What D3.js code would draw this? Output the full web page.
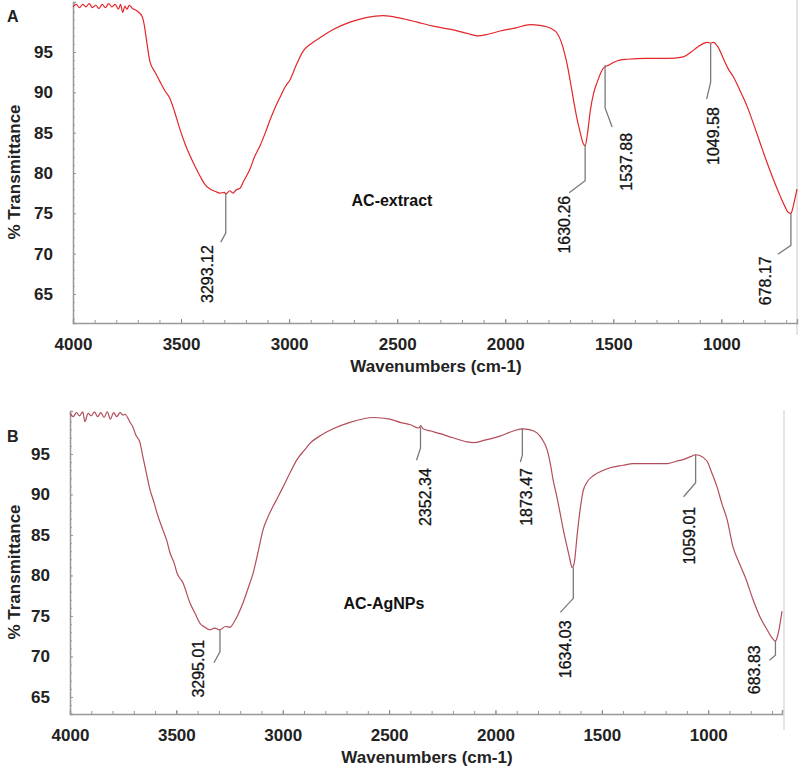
<!DOCTYPE html>
<html>
<head>
<meta charset="utf-8">
<script src="https://cdn.jsdelivr.net/npm/d3@7"></script>
<style>
  body { margin: 0; background: #fff; }
  text { font-family: "Liberation Sans", Arial, sans-serif; }
</style>
</head>
<body>
<svg width="800" height="769"></svg>
<script>
// FTIR spectra (wavenumber cm-1, % transmittance)
var waveA = [4000,3985,3970,3955,3940,3925,3910,3895,3880,3865,3850,3835,3820,3805,3790,3780,3770,3760,3750,3740,3725,3710,3695,3680,3670,3660,3644,3620,3597,3575,3551,3530,3505,3480,3458,3435,3412,3390,3366,3340,3319,3300,3293,3275,3260,3245,3227,3210,3181,3160,3134,3110,3088,3065,3042,3020,2995,2965,2935,2900,2856,2796,2718,2639,2565,2486,2407,2333,2250,2176,2130,2080,2023,1950,1884,1840,1806,1780,1759,1740,1725,1713,1700,1685,1670,1653,1640,1630,1620,1606,1590,1574,1546,1520,1500,1470,1435,1350,1250,1176,1140,1111,1080,1065,1050,1037,1015,991,970,944,910,880,850,819,790,759,727,705,690,678,668,658,650];
var transA = [100.6,100.9,100.5,100.9,100.6,101.0,100.5,100.8,100.4,100.9,100.5,101.0,100.6,100.9,100.3,100.9,99.9,100.7,100.3,100.8,100.4,100.2,99.9,99.4,98.3,96.5,93.8,92.5,91.3,90.2,89.2,87.6,85.4,83.5,82.1,80.8,79.6,78.6,78.0,77.7,77.5,77.6,77.4,77.8,77.5,77.9,78.1,79.0,80.5,82.0,83.4,85.0,86.6,88.1,89.4,90.6,91.6,93.5,95.1,96.0,96.8,97.8,98.7,99.3,99.5,99.2,98.7,98.2,97.8,97.3,97.0,97.2,97.6,98.0,98.4,98.3,98.1,97.8,97.3,96.2,94.8,93.4,91.5,89.2,87.0,85.0,83.7,83.4,84.8,87.8,90.0,91.3,93.0,93.4,93.7,94.0,94.1,94.2,94.2,94.4,95.0,95.6,96.1,96.2,96.1,96.2,95.6,94.2,93.0,91.9,90.0,88.2,86.0,83.6,81.4,79.2,77.1,75.8,75.1,75.0,75.8,77.0,78.0];

var waveB = [4000,3985,3970,3955,3940,3930,3915,3900,3885,3870,3855,3840,3825,3810,3795,3780,3765,3750,3741,3720,3704,3690,3671,3657,3640,3624,3605,3591,3563,3545,3530,3510,3497,3469,3436,3410,3389,3365,3342,3320,3295,3270,3248,3230,3215,3187,3154,3140,3115,3093,3070,3046,3020,2999,2965,2933,2900,2872,2820,2763,2684,2574,2496,2449,2400,2360,2352,2340,2300,2260,2200,2134,2105,2050,1978,1920,1875,1840,1805,1780,1757,1740,1729,1712,1696,1680,1663,1650,1640,1630,1616,1600,1588,1570,1541,1500,1461,1400,1353,1250,1193,1150,1118,1080,1060,1040,1005,985,958,935,911,883,855,826,789,755,723,700,684,675,665,653];
var transB = [100.0,99.6,100.1,99.7,100.2,99.0,100.0,99.7,100.2,99.6,100.1,99.5,100.2,99.3,100.1,99.6,100.1,99.8,99.9,99.0,98.3,97.3,96.4,94.6,92.5,90.6,89.0,87.7,85.6,84.3,82.8,81.5,80.3,79.1,76.6,75.2,74.1,73.6,73.3,73.5,73.3,73.7,73.6,74.2,74.9,76.6,79.1,80.2,83.0,85.6,87.2,88.5,89.8,90.9,92.7,94.3,95.4,96.3,97.3,98.1,98.9,99.5,99.3,98.9,98.6,98.2,98.5,98.1,97.8,97.5,97.0,96.5,96.4,96.7,97.2,97.8,98.1,98.0,97.6,96.8,95.5,93.5,91.8,89.8,87.7,85.5,83.5,82.0,81.0,81.5,85.0,88.5,90.4,91.5,92.3,92.9,93.3,93.6,93.8,93.8,93.8,94.1,94.3,94.7,94.9,94.8,94.1,92.8,90.9,88.8,86.9,83.5,81.6,79.8,77.0,74.8,73.3,72.3,71.9,72.4,73.6,75.6];

// labelled peaks: wavenumber and transmittance at the peak
var peakWaveA = [3293.12, 1630.26, 1537.88, 1049.58, 678.17];
var peakTransA = [77.5, 83.5, 93.4, 96.1, 75.0];
var peakWaveB = [3295.01, 2352.34, 1873.47, 1634.03, 1059.01, 683.83];
var peakTransB = [73.3, 98.3, 98.2, 81.0, 94.9, 72.0];

var xTicks = [4000, 3500, 3000, 2500, 2000, 1500, 1000];
var yTicks = [65, 70, 75, 80, 85, 90, 95];

// leader layout per peak: vertical length, slant dx, slant dy, label dx, label top dy
var leadA = [[40,-5,9,-18,52],[36,-16,12,-21,51],[43,7,19,21,68],[39,-4,17,3,64],[32,-13,9,-26,43]];
var leadB = [[22,-6,11,-22,10],[21,-4,12,5,41],[27,-2,7,4,40],[31,-13,14,-8,53],[28,-12,14,-6,52],[15,-6,5,-21,5]];

var svg = d3.select("svg");

function panel(o) {
  var x = d3.scaleLinear().domain([4000, o.xmin]).range([o.left, o.right]);
  var y = d3.scaleLinear().domain(o.ydom).range([o.bottom, o.top]);
  var g = svg.append("g");

  // light frame on the right
  g.append("line")
    .attr("x1", o.frameX).attr("x2", o.frameX)
    .attr("y1", o.frameY[0]).attr("y2", o.frameY[1])
    .style("stroke", "#e4e4e4").style("stroke-width", 2);

  // minor ticks
  g.append("g")
    .attr("transform", "translate(0," + o.bottom + ")")
    .call(d3.axisBottom(x).tickValues(d3.range(700, 4001, 100)).tickSize(-3).tickFormat(""))
    .call(function(a) { a.select(".domain").remove(); a.selectAll("line").style("stroke", "#999"); });
  g.append("g")
    .attr("transform", "translate(" + o.left + ",0)")
    .call(d3.axisLeft(y).tickValues(d3.range(Math.ceil(o.ydom[0]), o.ydom[1], 1)).tickSize(-2).tickFormat(""))
    .call(function(a) { a.select(".domain").remove(); a.selectAll("line").style("stroke", "#aaa"); });

  // x axis
  g.append("g")
    .attr("transform", "translate(0," + o.bottom + ")")
    .call(d3.axisBottom(x).tickValues(xTicks).tickSize(-4).tickPadding(15).tickFormat(d3.format("d")))
    .call(function(a) {
      a.select(".domain").style("stroke", "#999").style("stroke-width", 1.5);
      a.selectAll("line").style("stroke", "#888");
      a.selectAll("text").style("font-size", "17px").style("font-weight", "bold").style("fill", "#222");
    });

  // y axis
  g.append("g")
    .attr("transform", "translate(" + o.left + ",0)")
    .call(d3.axisLeft(y).tickValues(yTicks).tickSize(-3).tickPadding(20))
    .call(function(a) {
      a.select(".domain").style("stroke", "#999").style("stroke-width", 1.5);
      a.selectAll("line").style("stroke", "#999");
      a.selectAll("text").style("font-size", "17px").style("font-weight", "bold").style("fill", "#222");
    });

  // spectrum
  var pts = o.wave.map(function(w, i) { return [w, o.trans[i]]; });
  var line = d3.line()
    .curve(d3.curveMonotoneX)
    .x(function(d) { return x(d[0]); })
    .y(function(d) { return y(d[1]); });
  g.append("path")
    .datum(pts)
    .attr("fill", "none")
    .style("stroke", o.color)
    .style("stroke-width", 1.2)
    .attr("d", line);

  // peak leaders and labels
  o.peakWave.forEach(function(w, i) {
    var px = x(w), py = y(o.peakTrans[i]), L = o.lead[i];
    g.append("path")
      .attr("fill", "none")
      .style("stroke", "#7a7a7a")
      .style("stroke-width", 1.3)
      .attr("d", "M" + px + "," + py + "V" + (py + L[0]) + "l" + L[1] + "," + L[2]);
    g.append("text")
      .attr("transform", "translate(" + (px + L[3]) + "," + (py + L[4]) + ") rotate(-90)")
      .attr("text-anchor", "end")
      .attr("dy", "0.35em")
      .style("font-size", "16px")
      .style("fill", "#111")
      .style("stroke", "#111")
      .style("stroke-width", 0.3)
      .text(w.toFixed(2));
  });

  // titles
  g.append("text")
    .attr("x", (o.left + o.right) / 2 + 1).attr("y", o.bottom + 49)
    .attr("text-anchor", "middle")
    .style("font-size", "17px").style("font-weight", "bold").style("fill", "#222")
    .text("Wavenumbers (cm-1)");
  g.append("text")
    .attr("transform", "translate(20," + o.ymid + ") rotate(-90)")
    .attr("text-anchor", "middle")
    .style("font-size", "17px").style("font-weight", "bold").style("fill", "#222")
    .text("% Transmittance");
  g.append("text")
    .attr("x", 7).attr("y", o.letterY)
    .style("font-size", "16px").style("font-weight", "bold").style("fill", "#222")
    .text(o.letter);
  g.append("text")
    .attr("x", o.nameX).attr("y", o.nameY)
    .attr("text-anchor", "middle")
    .style("font-size", "16px").style("font-weight", "bold").style("fill", "#111")
    .text(o.name);
}

panel({
  wave: waveA, trans: transA, peakWave: peakWaveA, peakTrans: peakTransA, lead: leadA,
  xmin: 650, ydom: [61.4, 101.2], left: 73, right: 797, top: 2, bottom: 323,
  color: "#e3262b", letter: "A", letterY: 22, name: "AC-extract", nameX: 392, nameY: 206,
  ymid: 172, frameX: 797, frameY: [0, 335]
});
panel({
  wave: waveB, trans: transB, peakWave: peakWaveB, peakTrans: peakTransB, lead: leadB,
  xmin: 653, ydom: [62.9, 100.3], left: 70, right: 782, top: 411, bottom: 714,
  color: "#b34c5a", letter: "B", letterY: 442, name: "AC-AgNPs", nameX: 384, nameY: 609,
  ymid: 572, frameX: 784, frameY: [410, 730]
});
</script>
</body>
</html>
